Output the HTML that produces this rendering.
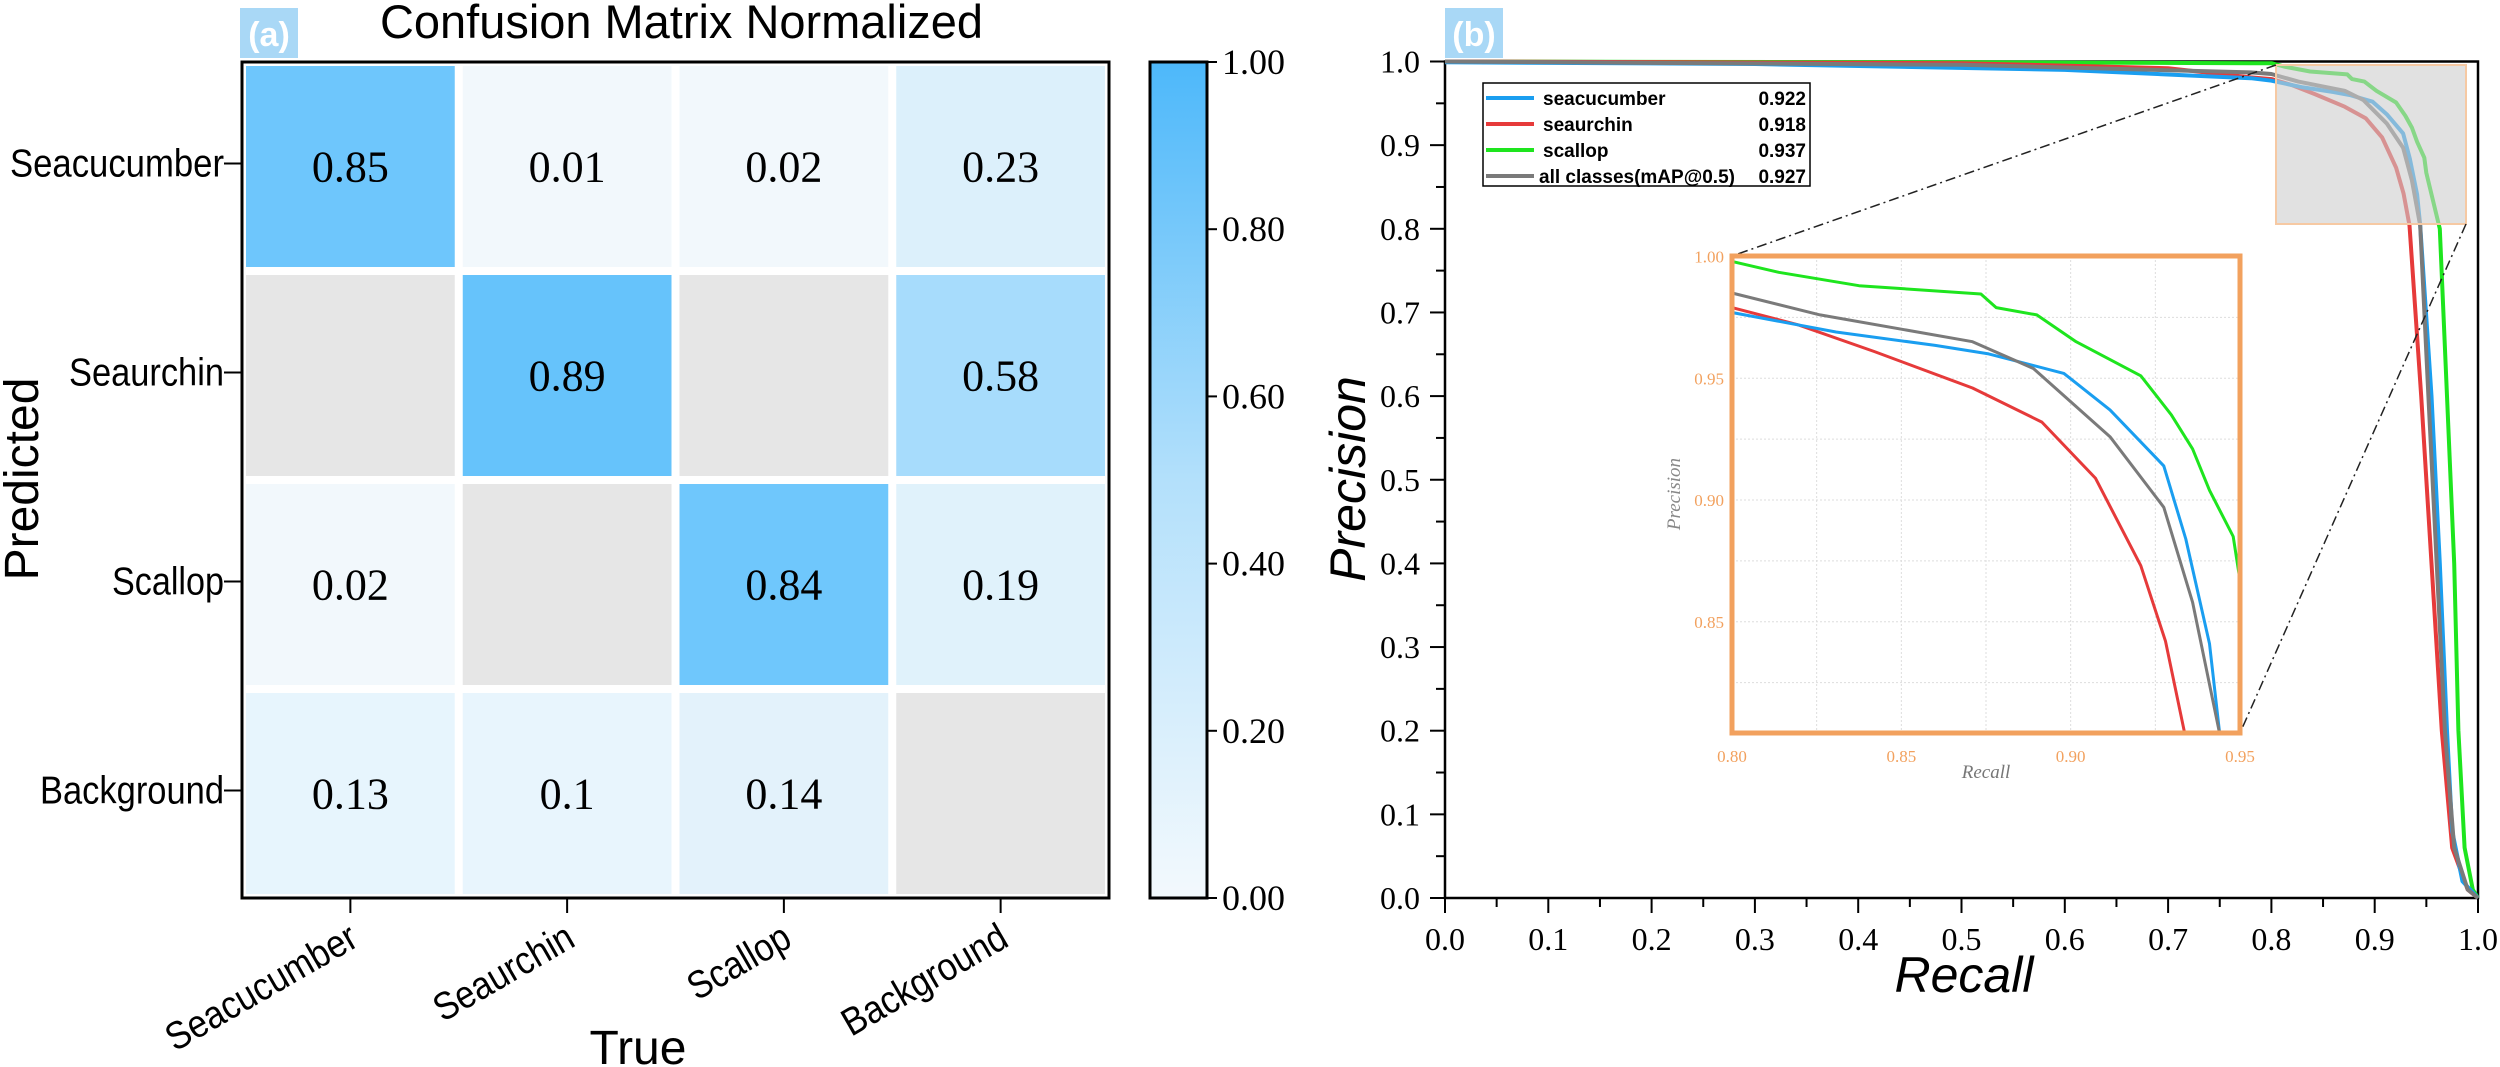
<!DOCTYPE html>
<html><head><meta charset="utf-8"><style>
html,body{margin:0;padding:0;background:#fff;}
svg{display:block;}
</style></head><body>
<svg id="s" width="2500" height="1067" viewBox="0 0 2500 1067" xmlns="http://www.w3.org/2000/svg">
<defs>
<linearGradient id="cb" x1="0" y1="1" x2="0" y2="0">
<stop offset="0" stop-color="#f3f9fd"/><stop offset="0.5" stop-color="#b3e0fb"/><stop offset="1" stop-color="#4db8fa"/>
</linearGradient>
</defs>
<rect x="240" y="8" width="58" height="50" fill="#a9d8f6"/>
<text x="269" y="46" font-family="Liberation Sans, sans-serif" font-weight="bold" font-size="34" fill="#fff" text-anchor="middle">(a)</text>
<text x="380" y="38" font-family="Liberation Sans, sans-serif" font-size="47" textLength="603" lengthAdjust="spacingAndGlyphs">Confusion Matrix Normalized</text>
<g id="cells"></g>
<rect x="242" y="62" width="867" height="836" fill="none" stroke="#000" stroke-width="3"/>
<rect x="1150" y="62" width="57" height="836" fill="url(#cb)" stroke="#000" stroke-width="3"/>
<g font-family="Liberation Serif, serif" font-size="36" id="cbt"></g>
<g font-family="Liberation Sans, sans-serif" font-size="39" id="ylab"></g>
<text transform="translate(38,479) rotate(-90)" font-family="Liberation Sans, sans-serif" font-size="48" text-anchor="middle">Predicted</text>
<text x="638" y="1064" font-family="Liberation Sans, sans-serif" font-size="48" text-anchor="middle">True</text>
<rect x="1445" y="8" width="58" height="50" fill="#a9d8f6"/>
<text x="1474" y="46" font-family="Liberation Sans, sans-serif" font-weight="bold" font-size="34" fill="#fff" text-anchor="middle">(b)</text>
<g id="bax"></g>
<g id="curves" fill="none" stroke-width="4" stroke-linejoin="round"></g>
<rect x="2276" y="65" width="190" height="159" fill="rgba(205,205,205,0.6)" stroke="#f6c9a3" stroke-width="2"/>
<line x1="2276" y1="65" x2="1732" y2="256" stroke="#222" stroke-width="1.5" stroke-dasharray="10,4,2,4"/>
<line x1="2466" y1="224" x2="2240" y2="733" stroke="#222" stroke-width="1.5" stroke-dasharray="10,4,2,4"/>
<rect x="1732" y="256" width="508" height="477" fill="#fff"/>
<g id="inset" fill="none" stroke-width="4" stroke-linejoin="round"></g>
<rect x="1732" y="256" width="508" height="477" fill="none" stroke="#f2a15e" stroke-width="5"/>
<g id="leg"></g>
<text x="1964" y="992" font-family="Liberation Sans, sans-serif" font-style="italic" font-size="50" text-anchor="middle">Recall</text>
<text transform="translate(1365,479) rotate(-90)" font-family="Liberation Sans, sans-serif" font-style="italic" font-size="50" text-anchor="middle">Precision</text>
</svg>
<script>
var NS="http://www.w3.org/2000/svg";
function el(p,t,a,txt){var e=document.createElementNS(NS,t);for(var k in a)e.setAttribute(k,a[k]);if(txt!=null)e.textContent=txt;document.getElementById(p).appendChild(e);return e;}
var vals=[["0.85","0.01","0.02","0.23"],["","0.89","","0.58"],["0.02","","0.84","0.19"],["0.13","0.1","0.14",""]];
var cols=[["#6ec6fc","#f2f8fc","#f2f8fc","#dcf0fb"],["#e6e6e6","#66c3fb","#e6e6e6","#a7dcfc"],["#f2f8fc","#e6e6e6","#6fc7fc","#e0f2fb"],["#e7f5fd","#e8f5fd","#e3f2fb","#e6e6e6"]];
var cw=867/4,ch=836/4;
for(var r=0;r<4;r++)for(var c=0;c<4;c++){
 var x=242+c*cw,y=62+r*ch;
 el("cells","rect",{x:x+4,y:y+4,width:cw-8,height:ch-8,fill:cols[r][c]});
 if(vals[r][c])el("cells","text",{x:x+cw/2,y:y+ch/2+15,"font-family":"Liberation Serif, serif","font-size":"44","text-anchor":"middle"},vals[r][c]);
}
var names=["Seacucumber","Seaurchin","Scallop","Background"];
var tl=[214,155,112,184];
for(var i=0;i<4;i++){
 var yc=62+i*ch+ch/2-3;
 el("ylab","text",{x:224,y:yc+13,"text-anchor":"end",textLength:tl[i],lengthAdjust:"spacingAndGlyphs"},names[i]);
 el("ylab","line",{x1:224,y1:yc,x2:242,y2:yc,stroke:"#000","stroke-width":2});
 var xc=242+i*cw+cw/2;
 el("ylab","line",{x1:xc,y1:898,x2:xc,y2:913,stroke:"#000","stroke-width":2});
 el("ylab","text",{transform:"translate("+(xc+10)+",945) rotate(-30)","text-anchor":"end",textLength:tl[i],lengthAdjust:"spacingAndGlyphs"},names[i]);
}
for(var i=0;i<=5;i++){
 var y=898-i*836/5;
 el("cbt","line",{x1:1207,y1:y,x2:1217,y2:y,stroke:"#000","stroke-width":2});
 el("cbt","text",{x:1222,y:y+12},(i*0.2).toFixed(2));
}
function X(r){return 1445+r*1033;} function Y(p){return 898-p*836.5;}
el("bax","rect",{x:1445,y:61.5,width:1033,height:836.5,fill:"none",stroke:"#000","stroke-width":2.5});
for(var i=0;i<=20;i++){
 var v=i*0.05,maj=i%2==0,L=maj?15:9;
 el("bax","line",{x1:X(v),y1:898,x2:X(v),y2:898+L,stroke:"#000","stroke-width":2});
 el("bax","line",{x1:1445,y1:Y(v),x2:1445-L,y2:Y(v),stroke:"#000","stroke-width":2});
 if(maj){
  el("bax","text",{x:X(v),y:950,"font-family":"Liberation Serif, serif","font-size":"32","text-anchor":"middle"},v.toFixed(1));
  el("bax","text",{x:1420,y:Y(v)+11,"font-family":"Liberation Serif, serif","font-size":"32","text-anchor":"end"},v.toFixed(1));
 }
}
var inset={
green:[[0.80,0.998],[0.8138,0.9935],[0.8375,0.988],[0.8735,0.9846],[0.878,0.979],[0.89,0.976],[0.9016,0.965],[0.9207,0.951],[0.9297,0.935],[0.936,0.921],[0.941,0.904],[0.948,0.885],[0.95,0.867]],
blue:[[0.80,0.977],[0.8307,0.969],[0.86,0.9635],[0.8758,0.96],[0.898,0.952],[0.9116,0.937],[0.9275,0.914],[0.934,0.884],[0.941,0.841],[0.944,0.804]],
gray:[[0.80,0.985],[0.826,0.976],[0.871,0.965],[0.889,0.954],[0.9116,0.926],[0.9275,0.897],[0.936,0.858],[0.944,0.804]],
red:[[0.80,0.979],[0.8194,0.972],[0.842,0.961],[0.871,0.946],[0.8915,0.932],[0.9073,0.909],[0.9207,0.873],[0.928,0.842],[0.9337,0.804]]};
var pre={green:[[0,1],[0.5,0.999],[0.78,0.998]],blue:[[0,0.999],[0.3,0.997],[0.6,0.99],[0.78,0.98]],gray:[[0,1],[0.5,0.996],[0.78,0.987]],red:[[0,1],[0.5,0.998],[0.7,0.992],[0.78,0.981]]};
var post={green:[[0.963,0.8],[0.97,0.6],[0.977,0.4],[0.981,0.2],[0.987,0.06],[0.995,0.01],[1,0]],
blue:[[0.955,0.6],[0.963,0.4],[0.97,0.2],[0.975,0.08],[0.985,0.02],[1,0]],
gray:[[0.952,0.6],[0.96,0.4],[0.968,0.2],[0.977,0.06],[0.99,0.01],[1,0]],
red:[[0.945,0.6],[0.955,0.4],[0.965,0.2],[0.975,0.06],[0.99,0.01],[1,0]]};
var C={green:"#1ee51e",blue:"#1a9ef0",gray:"#7a7a7a",red:"#e63a3a"};
["green","red","blue","gray"].forEach(function(k){
 var pts=pre[k].concat(inset[k]).concat(post[k]);
 el("curves","polyline",{points:pts.map(function(p){return X(p[0]).toFixed(1)+","+Y(p[1]).toFixed(1);}).join(" "),stroke:C[k]});
});
function IX(r){return 1732+(r-0.8)/0.15*508;} function IY(p){return 256.5+(1-p)/0.1*243.5;}
for(var i=0;i<=6;i++){var r=0.8+i*0.025;el("inset","line",{x1:IX(r),y1:256,x2:IX(r),y2:733,stroke:"#ddd","stroke-width":1,"stroke-dasharray":"2,2"});}
for(var i=0;i<=8;i++){var p=1-i*0.025;if(IY(p)<733)el("inset","line",{x1:1732,y1:IY(p),x2:2240,y2:IY(p),stroke:"#ddd","stroke-width":1,"stroke-dasharray":"2,2"});}
["green","red","blue","gray"].forEach(function(k){
 el("inset","polyline",{points:inset[k].map(function(p){return IX(p[0]).toFixed(1)+","+IY(p[1]).toFixed(1);}).join(" "),stroke:C[k],"stroke-width":3});
});
var lb=["0.80","0.85","0.90","0.95"];
for(var i=0;i<4;i++){
 el("inset","text",{x:IX(0.8+i*0.05),y:762,fill:"#f2a15e",stroke:"none","font-family":"Liberation Serif, serif","font-size":"17","text-anchor":"middle"},lb[i]);
 el("inset","text",{x:1724,y:IY(1-i*0.05)+6,fill:"#f2a15e",stroke:"none","font-family":"Liberation Serif, serif","font-size":"17","text-anchor":"end"},(1-i*0.05).toFixed(2));
}
el("inset","text",{x:1986,y:778,fill:"#777",stroke:"none","font-family":"Liberation Serif, serif","font-style":"italic","font-size":"19","text-anchor":"middle"},"Recall");
el("inset","text",{transform:"translate(1680,494) rotate(-90)",fill:"#888",stroke:"none","font-family":"Liberation Serif, serif","font-style":"italic","font-size":"19","text-anchor":"middle"},"Precision");
el("leg","rect",{x:1483,y:83,width:327,height:103,fill:"#fff",stroke:"#000","stroke-width":1.5});
var L=[["seacucumber","0.922","blue"],["seaurchin","0.918","red"],["scallop","0.937","green"],["all classes(mAP@0.5)","0.927","gray"]];
for(var i=0;i<4;i++){
 var y=98+i*26;
 el("leg","line",{x1:1486,y1:y,x2:1534,y2:y,stroke:C[L[i][2]],"stroke-width":4});
 el("leg","text",{x:i==3?1539:1543,y:y+7,"font-family":"Liberation Sans, sans-serif","font-weight":"bold","font-size":"19"},L[i][0]);
 el("leg","text",{x:1806,y:y+7,"font-family":"Liberation Sans, sans-serif","font-weight":"bold","font-size":"19","text-anchor":"end"},L[i][1]);
}
</script>
</body></html>
